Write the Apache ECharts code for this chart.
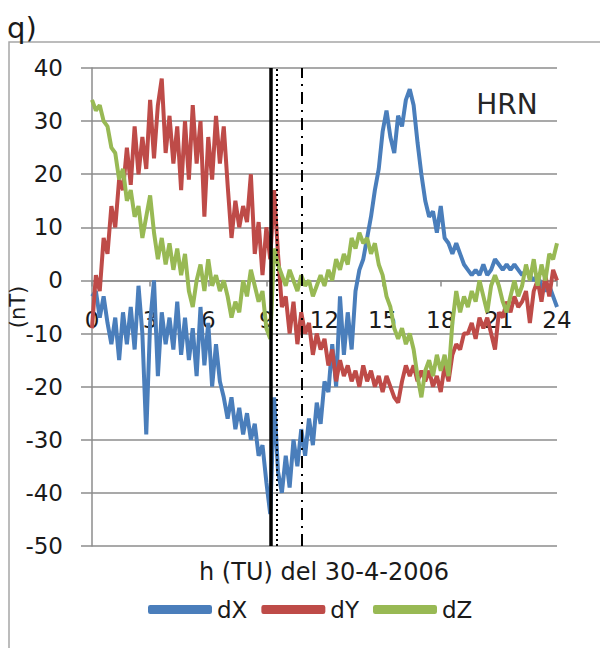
<!DOCTYPE html>
<html>
<head>
<meta charset="utf-8">
<script src="https://cdn.jsdelivr.net/npm/echarts@6/dist/echarts.min.js"></script>
<style>
  html, body { margin: 0; padding: 0; background: #fff; }
  #chart { width: 600px; height: 648px; }
</style>
</head>
<body>
<div id="chart"></div>
<script>
// samples every 0.2 h, from 0 to 24 h (TU), 30-4-2006, station HRN
const stepHours = 0.2
const xTicks = [0, 3, 6, 9, 12, 15, 18, 21, 24]
const yTicks = [-50, -40, -30, -20, -10, 0, 10, 20, 30, 40]

const dX = [
    -3, -2, -7, -3, -8, -12, -7, -15, -6, -12,
    -5, -13, -1, -10, -29, -8, 0, -18, -6, -12,
    -7, -13, -4, -14, -7, -15, -9, -18, -5, -16,
    -8, -20, -12, -19, -22, -26, -22, -28, -24, -29,
    -25, -30, -27, -33, -31, -38, -44, -22, -36, -40,
    -33, -39, -30, -35, -28, -33, -26, -31, -23, -27,
    -19, -21, -12, -20, -3, -14, -6, -13, -2, 2,
    4, 8, 12, 17, 21, 28, 32, 27, 24, 31,
    29, 34, 36, 33, 26, 20, 15, 12, 13, 9,
    14, 8, 7, 5, 7, 5, 3, 2, 1, 2,
    1, 3, 1, 2, 4, 3, 2, 3, 2, 3,
    2, 1, 2, 1, 0, 1, -1, -2, -1, -3,
    -5
]
const dY = [
    -9, 1, -2, 8, 5, 14, 10, 19, 17, 25,
    18, 29, 20, 27, 21, 34, 23, 33, 38, 24,
    31, 22, 29, 17, 30, 19, 33, 22, 30, 12,
    27, 19, 31, 22, 29, 18, 8, 15, 10, 14,
    11, 20, 5, 11, 1, 10, 4, 17, 5, -5,
    -3, -10, -4, -12, -6, -10, -8, -14, -10, -13,
    -11, -16, -13, -19, -15, -18, -16, -19, -17, -20,
    -16, -19, -17, -20, -18, -21, -18, -20, -22, -23,
    -19, -16, -18, -16, -19, -17, -19, -17, -20, -18,
    -21, -16, -19, -14, -12, -13, -10, -10, -8, -11,
    -7, -9, -7, -10, -13, -6, -7, -4, -6, -3,
    -5, -4, -2, -8, -2, 0, -4, 1, -3, 2,
    0
]
const dZ = [
    34, 32, 33, 30, 29, 25, 24, 19, 21, 15,
    17, 12, 14, 8, 12, 16, 9, 4, 8, 3,
    7, 2, 6, 1, 5, -2, -5, 0, 3, -2,
    4, -1, 1, -2, 0, -3, -7, -4, -6, 0,
    -3, 2, -1, -4, -2, -9, -11, 6, 3, 1,
    -1, 2, 0, -2, 1, -1, 0, -3, -1, 1,
    -1, 2, 0, 4, 2, 5, 3, 8, 6, 9,
    7, 8, 5, 7, 3, 1, -3, -5, -9, -11,
    -9, -12, -10, -13, -18, -22, -17, -15, -18, -14,
    -17, -14, -18, -8, -2, -6, -3, -5, -2, -4,
    0, -3, -6, -1, 1, -1, -4, -6, -3, 0,
    -3, -1, 3, 0, 4, -1, 3, 0, 5, 4,
    7
]
// event markers (hours)
const solidMark = 9.22
const dottedMark = 9.56
const dashDotMark = 10.82

const toPairs = (arr) => arr.map((v, i) => [+(i * stepHours).toFixed(2), v])

const font = '"DejaVu Sans", sans-serif'
const textColor = '#1a1a1a'
const gridColor = '#8c8c8c'

// plot box in pixels
const gridTop = 68
const gridBottom = 102
const plotHeight = 648 - gridTop - gridBottom
const yMin = yTicks[0]
const yMax = yTicks[yTicks.length - 1]
// lift the x axis from the bottom edge to the zero line (Excel style)
const zeroOffset = -plotHeight * (0 - yMin) / (yMax - yMin)

const chart = echarts.init(document.getElementById('chart'), null, { renderer: 'svg' })

const option = {
    animation: false,
    backgroundColor: '#fff',
    textStyle: { fontFamily: font },
    grid: { left: 92, right: 43, top: gridTop, bottom: gridBottom, outerBoundsMode: 'none' },
    xAxis: {
        type: 'value',
        min: xTicks[0],
        max: xTicks[xTicks.length - 1],
        interval: 3,
        offset: zeroOffset,
        z: 3,
        axisLine: { onZero: false, lineStyle: { color: gridColor, width: 1.5 } },
        axisTick: { show: true, length: 6, lineStyle: { color: gridColor, width: 1.5 } },
        axisLabel: { margin: 28, fontSize: 23, color: textColor, fontFamily: font },
        splitLine: { show: false }
    },
    yAxis: {
        type: 'value',
        min: yMin,
        max: yMax,
        interval: 10,
        name: '(nT)',
        nameLocation: 'middle',
        nameGap: 64,
        nameMoveOverlap: false,
        nameTextStyle: { fontSize: 21, color: textColor, fontFamily: font },
        axisLine: { show: true, lineStyle: { color: gridColor, width: 1.5 } },
        axisTick: { show: true, length: 11, lineStyle: { color: gridColor, width: 1.5 } },
        axisLabel: { margin: 29, fontSize: 23, color: textColor, fontFamily: font },
        splitLine: { show: true, lineStyle: { color: gridColor, width: 1.5 } }
    },
    legend: {
        top: 598,
        left: 148,
        padding: 0,
        icon: 'roundRect',
        itemWidth: 64,
        itemHeight: 9,
        itemGap: 14,
        textStyle: { fontSize: 23, color: textColor, fontFamily: font },
        data: ['dX', 'dY', 'dZ']
    },
    graphic: [
        {
            type: 'rect',
            shape: { x: 9, y: 42, width: 620, height: 640 },
            style: { fill: 'none', stroke: '#a6a6a6', lineWidth: 1.5 },
            silent: true
        },
        {
            type: 'text', x: 7, y: 28,
            style: { text: 'q)', fontSize: 29, fill: textColor, fontFamily: font, textVerticalAlign: 'middle' }
        },
        {
            type: 'text', x: 507, y: 104,
            style: { text: 'HRN', fontSize: 28, fill: '#262626', fontFamily: font, textAlign: 'center', textVerticalAlign: 'middle' }
        },
        {
            type: 'text', x: 324, y: 572,
            style: { text: 'h (TU) del 30-4-2006', fontSize: 24, fill: textColor, fontFamily: font, textAlign: 'center', textVerticalAlign: 'middle' }
        }
    ],
    series: [
        {
            name: 'dX', type: 'line', showSymbol: false, data: toPairs(dX),
            color: '#4a7ebb', lineStyle: { width: 4, color: '#4a7ebb' }
        },
        {
            name: 'dY', type: 'line', showSymbol: false, data: toPairs(dY),
            color: '#be4b48', lineStyle: { width: 4, color: '#be4b48' }
        },
        {
            name: 'dZ', type: 'line', showSymbol: false, data: toPairs(dZ),
            color: '#98b954', lineStyle: { width: 4, color: '#98b954' }
        },
        {
            name: 'markers', type: 'line', data: [], z: 10,
            markLine: {
                silent: true,
                symbol: ['none', 'none'],
                label: { show: false },
                data: [
                    { xAxis: solidMark, lineStyle: { color: '#000', width: 3.5, type: 'solid' } },
                    { xAxis: dottedMark, lineStyle: { color: '#000', width: 2, type: [2, 3] } },
                    { xAxis: dashDotMark, lineStyle: { color: '#000', width: 2, type: [12, 6, 2, 6] } }
                ]
            }
        }
    ]
}
chart.setOption(option)
</script>
</body>
</html>
